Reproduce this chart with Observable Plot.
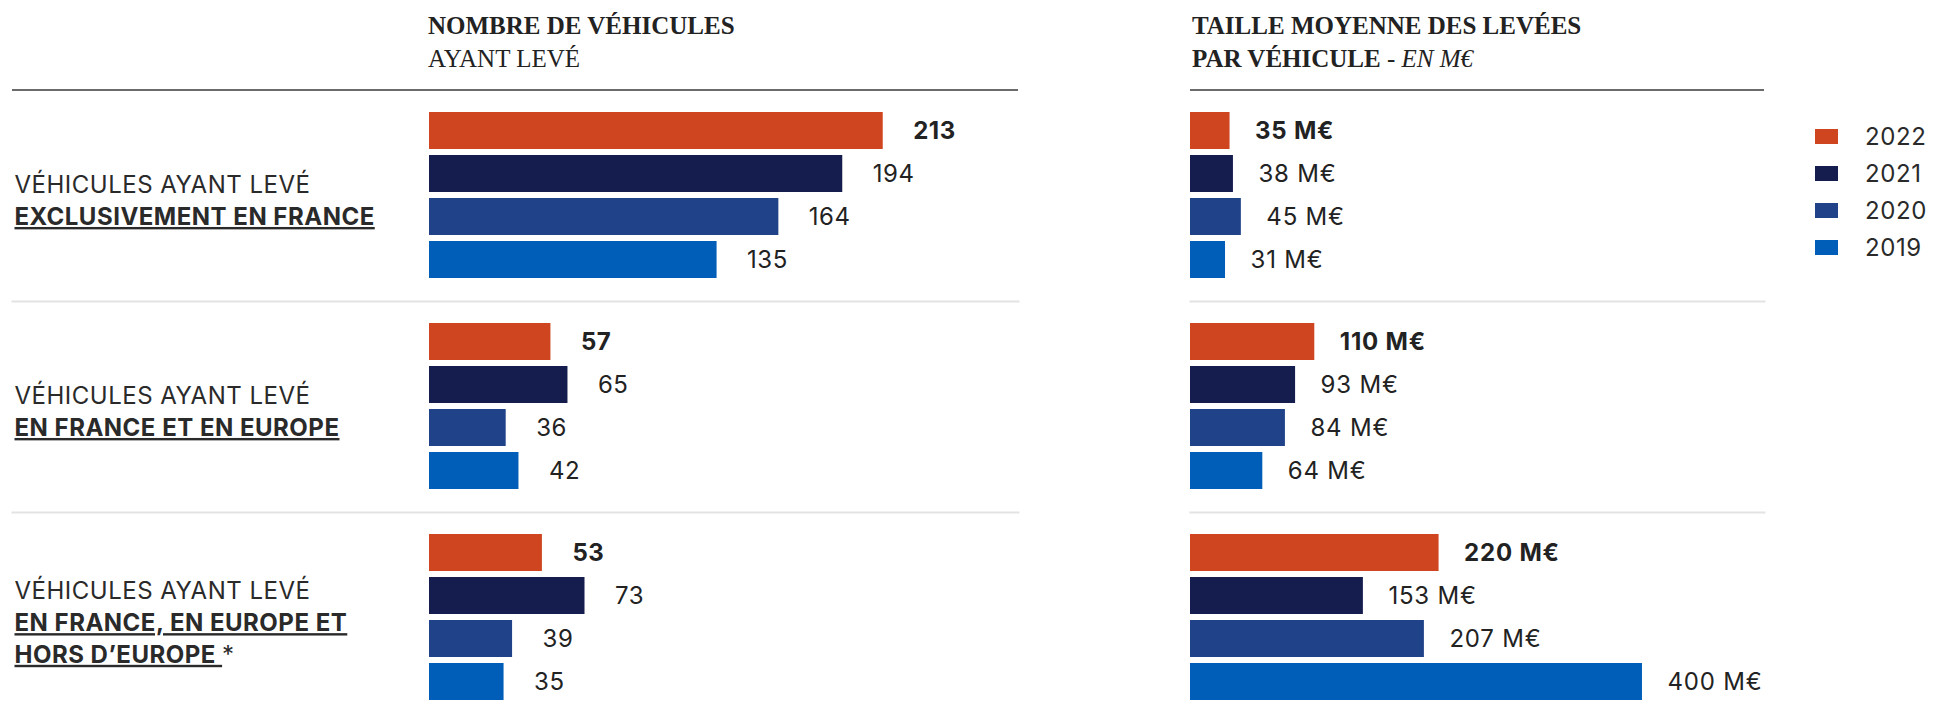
<!DOCTYPE html>
<html>
<head>
<meta charset="utf-8">
<script src="https://cdn.jsdelivr.net/npm/d3@7"></script>
<script src="https://cdn.jsdelivr.net/npm/@observablehq/plot@0.6"></script>
<style>
html, body { margin: 0; padding: 0; background: #fff; overflow: hidden; }
#wrap { position: relative; width: 1934px; height: 719px; overflow: hidden; font-family: Inter, sans-serif; color: #222; }
.title { position: absolute; top: 9px; font-family: "Liberation Serif", serif; font-size: 25px; line-height: 33px; color: #222; white-space: nowrap; }
.title b { font-weight: 700; }
.rule { position: absolute; top: 89px; height: 2px; background: #6b6b6b; }
.panel { position: absolute; top: 90px; }
#legend { position: absolute; left: 1815px; top: 118px; font-family: Inter, sans-serif; font-size: 24px; letter-spacing: 0.6px; color: #2a2a2a; }
.lg { display: flex; align-items: center; height: 37px; }
.sw { width: 23px; height: 15px; margin-right: 27px; }
</style>
</head>
<body>
<div id="wrap">
  <div class="title" style="left:428px"><b>NOMBRE DE VÉHICULES</b><br>AYANT LEVÉ</div>
  <div class="title" style="left:1192px"><b>TAILLE MOYENNE DES LEVÉES</b><br><b>PAR VÉHICULE</b> - <i>EN M€</i></div>
  <div class="rule" style="left:12px;width:1006px"></div>
  <div class="rule" style="left:1190px;width:574px"></div>
  <div class="panel" id="left" style="left:0px"></div>
  <div class="panel" id="right" style="left:1150px"></div>
  <div id="legend"></div>
</div>
<script>
// ---- data ----
const groups = ["france", "europe", "monde"];
const groupLine1 = "VÉHICULES AYANT LEVÉ";
const groupBoldLines = [
  ["EXCLUSIVEMENT EN FRANCE"],
  ["EN FRANCE ET EN EUROPE"],
  ["EN FRANCE, EN EUROPE ET", "HORS D’EUROPE *"]
];
const years = ["2022", "2021", "2020", "2019"];
const yearColors = ["#CF4520", "#151C4E", "#1F4289", "#005EB8"];

// Nombre de véhicules ayant levé (2022, 2021, 2020, 2019)
const countsFrance = [213, 194, 164, 135];
const countsEurope = [57, 65, 36, 42];
const countsMonde = [53, 73, 39, 35];

// Taille moyenne des levées par véhicule, en M€ (2022, 2021, 2020, 2019)
const sizeFrance = [35, 38, 45, 31];
const sizeEurope = [110, 93, 84, 64];
const sizeMonde = [220, 153, 207, 400];

// ---- tables ----
function toRows(seriesByGroup) {
  const rows = [];
  seriesByGroup.forEach((vals, gi) => {
    vals.forEach((v, yi) => rows.push({group: groups[gi], year: years[yi], value: v}));
  });
  return rows;
}
const countRows = toRows([countsFrance, countsEurope, countsMonde]);
const sizeRows = toRows([sizeFrance, sizeEurope, sizeMonde]);
const labelRows = groups.map((g, i) => ({group: g, label: [groupLine1, ...groupBoldLines[i]].join("\n")}));

function panel(rows, {xMax, range, width, marginLeft, marginRight, dx, fmt, withLabels}) {
  const common = {fy: "group", y: "year", x: "value", textAnchor: "start", dx, fontSize: 24, fill: "#222"};
  const marks = [
    Plot.frame({anchor: "bottom", stroke: "#e3e3e3", strokeWidth: 2}),
    Plot.barX(rows, {fy: "group", y: "year", x: "value", fill: "year"}),
    Plot.text(rows.filter(d => d.year === years[0]), {...common, text: d => fmt(d.value), fontWeight: 700}),
    Plot.text(rows.filter(d => d.year !== years[0]), {...common, text: d => fmt(d.value), fontWeight: 400})
  ];
  if (withLabels) {
    marks.push(Plot.text(labelRows, {
      fy: "group", text: "label", frameAnchor: "left", textAnchor: "start",
      lineAnchor: "middle", lineHeight: 1.32, fontSize: 24, dx: 2, dy: 3, fill: "#2a2a2a"
    }));
  }
  return Plot.plot({
    width, height: 633,
    marginTop: 0, marginBottom: 0, marginLeft, marginRight,
    x: {domain: [0, xMax], range, axis: null},
    y: {domain: years, paddingInner: 0.14, paddingOuter: 0, insetTop: 21, insetBottom: 21.5, axis: null},
    fy: {domain: groups, padding: 0, axis: null},
    color: {domain: years, range: yearColors},
    style: {fontFamily: "Inter, sans-serif", overflow: "visible", background: "transparent"},
    marks
  });
}

const leftPlot = panel(countRows, {
  xMax: 276.5, range: [429, 1018], width: 1030, marginLeft: 12, marginRight: 12,
  dx: 30, fmt: v => String(v), withLabels: true
});
const rightPlot = panel(sizeRows, {
  xMax: 508, range: [40, 614], width: 630, marginLeft: 40, marginRight: 16,
  dx: 25, fmt: v => `${v} M€`, withLabels: false
});
document.getElementById("left").appendChild(leftPlot);
document.getElementById("right").appendChild(rightPlot);

// slightly wider tracking on all chart texts
d3.selectAll("#left text").style("letter-spacing", "0.5px");
d3.selectAll("#right text").style("letter-spacing", "0.8px");

// style the bold, underlined lines of the group labels
d3.select(leftPlot).selectAll("text").each(function () {
  const tspans = d3.select(this).selectAll("tspan");
  if (tspans.empty()) return;
  if (!tspans.nodes()[0].textContent.startsWith("VÉHICULES")) return;
  tspans.each(function (_, i) {
    if (i === 0) return;
    const t = d3.select(this);
    const txt = t.text();
    const star = txt.endsWith(" *");
    const main = star ? txt.slice(0, -1) : txt;
    t.text(null);
    t.append("tspan").text(main)
      .attr("font-weight", 700)
      .style("text-decoration", "underline")
      .style("text-decoration-color", "#555")
      .style("text-decoration-thickness", "2px")
      .style("text-underline-offset", "5px");
    if (star) t.append("tspan").text("*").attr("font-weight", 400);
  });
});

// legend
const legend = d3.select("#legend");
years.forEach((y, i) => {
  const row = legend.append("div").attr("class", "lg");
  row.append("div").attr("class", "sw").style("background", yearColors[i]);
  row.append("span").text(y);
});
</script>
</body>
</html>
